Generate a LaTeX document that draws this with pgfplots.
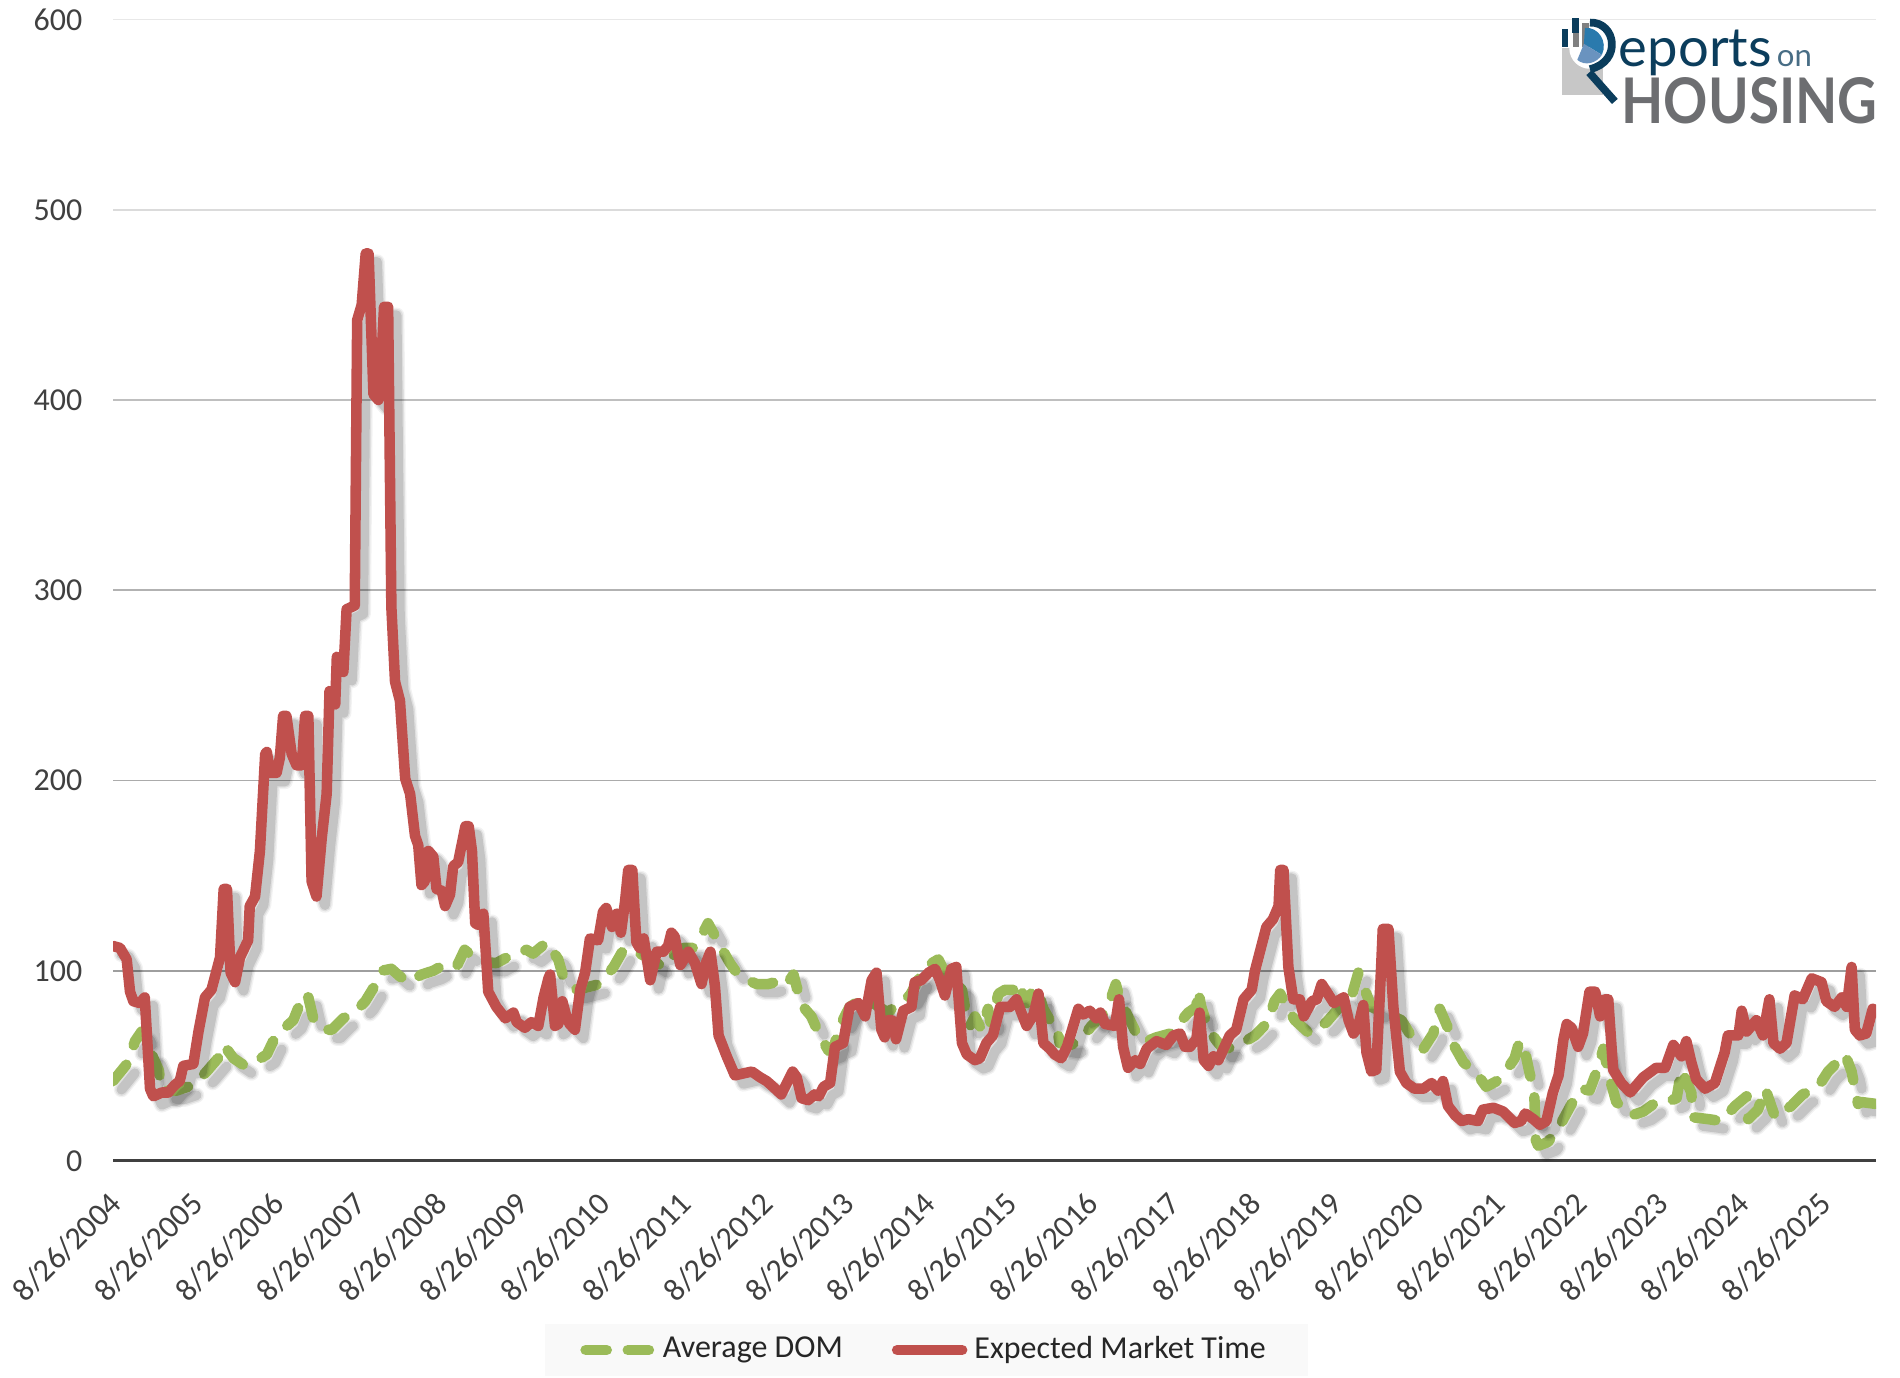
\documentclass[border=0pt]{standalone}
\usepackage{fontspec}
\usepackage{graphicx}
\usepackage{pgfplots}
\usepackage{pgfplotstable}
\pgfplotsset{compat=1.18}
\setmainfont{Carlito}
\newfontfamily\logofont{Lato}
\definecolor{redline}{HTML}{C0504D}
\definecolor{greenline}{HTML}{9BBB59}
\definecolor{ticktext}{HTML}{404040}
\definecolor{navy}{HTML}{0B3D5C}
\definecolor{logogray}{HTML}{6D6E71}
\definecolor{piedark}{HTML}{2A7AAD}
\definecolor{pielight}{HTML}{6A93BF}
\pgfplotstableread{
t v
0 113
.086 112
.168 106
.209 89
.25 84
.33 83
.39 86
.455 38
.495 34
.60 36
.68 36
.76 40
.82 42
.864 50
.987 51
1.05 68
1.13 86
1.21 90
1.315 107
1.36 143
1.40 143
1.445 99
1.50 94
1.56 107
1.66 116
1.68 134
1.745 139
1.805 163
1.87 214
1.89 215
1.93 204
2.01 204
2.05 212
2.09 234
2.13 234
2.195 214
2.255 208
2.32 208
2.36 234
2.40 234
2.44 147
2.50 139
2.565 170
2.625 193
2.66 247
2.73 240
2.75 265
2.83 257
2.87 290
2.97 292
3.00 442
3.055 450
3.105 477
3.14 477
3.20 403
3.26 400
3.30 423
3.33 449
3.38 449
3.42 291
3.465 252
3.525 242
3.59 201
3.65 193
3.71 171
3.75 166
3.79 145
3.83 147
3.875 163
3.935 160
3.975 143
4.04 142
4.08 134
4.14 140
4.18 155
4.24 157
4.33 176
4.37 176
4.41 163
4.45 125
4.49 124
4.55 130
4.61 89
4.71 81
4.82 75
4.92 78
4.96 73
5.06 70
5.14 73
5.225 71
5.29 86
5.35 96
5.37 98
5.43 71
5.47 72
5.52 84
5.57 76
5.61 72
5.675 69
5.74 90
5.80 99
5.86 117
5.96 116
6.02 131
6.06 133
6.13 123
6.19 130
6.24 120
6.29 136
6.33 153
6.38 153
6.43 115
6.47 112
6.52 117
6.60 95
6.68 110
6.76 110
6.82 113
6.86 120
6.90 118
6.97 103
7.07 110
7.15 104
7.23 93
7.285 104
7.34 110
7.395 92
7.44 66
7.54 55
7.64 45
7.74 46
7.85 47
7.95 44
8.03 42
8.11 39
8.21 35
8.35 47
8.40 44
8.46 33
8.54 32
8.62 35
8.67 34
8.73 39
8.81 41
8.87 60
8.97 62
9.05 81
9.16 83
9.24 76
9.32 95
9.38 99
9.44 69
9.48 65
9.52 74
9.57 74
9.62 64
9.71 79
9.81 81
9.85 94
9.93 95
10.02 99
10.10 101
10.16 95
10.22 87
10.30 101
10.36 102
10.43 62
10.49 56
10.59 53
10.65 54
10.73 62
10.81 66
10.90 81
11.02 81
11.10 85
11.16 78
11.225 71
11.31 77
11.37 88
11.43 62
11.51 59
11.57 56
11.65 54
11.72 60
11.86 80
11.92 77
12.00 79
12.08 75
12.13 78
12.19 72
12.31 71
12.36 85
12.41 60
12.47 49
12.56 53
12.62 51
12.70 59
12.82 63
12.94 61
13.03 66
13.11 67
13.17 60
13.23 60
13.31 64
13.35 78
13.40 53
13.46 50
13.52 55
13.58 53
13.72 66
13.80 69
13.89 85
13.99 90
14.03 100
14.17 123
14.25 127
14.32 134
14.34 153
14.38 153
14.44 102
14.50 85
14.58 85
14.63 76
14.73 84
14.79 85
14.85 93
14.91 89
15.00 83
15.12 86
15.18 74
15.24 67
15.30 71
15.36 82
15.40 57
15.46 47
15.52 48
15.58 102
15.60 122
15.67 122
15.73 81
15.81 47
15.89 41
15.99 38
16.10 38
16.20 41
16.28 37
16.34 42
16.40 29
16.49 24
16.57 21
16.65 22
16.77 21
16.83 27
16.96 28
17.08 26
17.22 20
17.30 21
17.35 25
17.45 22
17.53 19
17.61 21
17.69 36
17.76 45
17.82 64
17.86 72
17.92 70
18.00 60
18.06 67
18.14 89
18.21 89
18.27 76
18.33 85
18.37 85
18.43 48
18.53 41
18.64 36
18.80 44
18.96 49
19.07 49
19.17 61
19.27 55
19.33 63
19.39 52
19.45 43
19.56 38
19.68 41
19.80 57
19.84 66
19.97 66
20.01 79
20.07 68
20.19 74
20.27 66
20.35 85
20.40 62
20.48 59
20.56 62
20.66 87
20.76 85
20.87 96
20.99 94
21.05 84
21.15 81
21.24 86
21.30 81
21.36 102
21.40 69
21.46 66
21.54 67
21.62 80
21.69 78
}\tabemt
\pgfplotstableread{
t v
0 42
.19 52
.27 63
.35 68
.455 58
.56 48
.60 37
.78 37
.99 40
1.15 47
1.29 54
1.36 61
1.48 54
1.62 50
1.76 52.5
1.89 56
1.99 65
2.11 70
2.215 74
2.30 83
2.35 88
2.40 86
2.46 75
2.58 69
2.69 69
2.83 75
2.99 79
3.10 84
3.20 91
3.30 100
3.42 101
3.525 97
3.65 94
3.79 98
3.935 100
4.06 103
4.22 102
4.32 111
4.49 105
4.71 104
4.88 108
5.08 111
5.16 109
5.33 115
5.47 106
5.53 97
5.63 95
5.70 90
5.98 93
6.15 102
6.27 111
6.39 111
6.52 108
6.76 102
6.88 108
7.01 112
7.13 112
7.25 120
7.31 125
7.40 118
7.50 110
7.58 104
7.68 98
7.80 95
7.91 93
8.05 93
8.22 95
8.28 93
8.36 98
8.44 85
8.48 81
8.58 76
8.67 67
8.79 58
8.85 59
8.93 71
9.05 81
9.20 85
9.34 83
9.52 78
9.67 84
9.79 87
9.98 102
10.14 106
10.22 99
10.43 90
10.47 80
10.53 71
10.59 76
10.67 69
10.75 80
10.78 73
10.88 88
10.96 90
11.06 90
11.12 94
11.22 83
11.29 89
11.35 91
11.43 80
11.51 74
11.59 72
11.63 62
11.76 61
11.88 63
12.02 71
12.21 79
12.32 93
12.37 85
12.47 76
12.54 70
12.60 64
12.70 63
12.82 65
12.99 67
13.11 73
13.21 78
13.31 81
13.33 90
13.37 81
13.46 69
13.56 63
13.64 59
13.80 60
14.03 66
14.19 73
14.27 84
14.34 88
14.42 81
14.52 74
14.70 67
14.91 73
15.05 80
15.22 87
15.30 99
15.38 90
15.46 81
15.83 74
15.93 67
16.10 59
16.22 67
16.30 80
16.40 70
16.47 61
16.59 52
16.77 45
16.87 39
17.00 42
17.14 49
17.22 54
17.28 63
17.35 57
17.41 45
17.46 37
17.48 11
17.51 8
17.63 10
17.78 19
17.92 30
18.04 38
18.14 37
18.21 45
18.27 53
18.31 59
18.39 43
18.47 31
18.66 24
18.80 26
18.96 31
19.09 31
19.21 33
19.27 48
19.39 36
19.41 23
19.60 22
19.76 21
19.93 29
20.07 34
20.09 22
20.21 27
20.30 38
20.42 23
20.62 29
20.76 35
20.95 39
21.07 47
21.28 56
21.36 47
21.40 38
21.44 30
21.48 31
21.66 30
}\tabdom
\pgfplotsset{
  sh/.style={forget plot,draw=black,line join=round,line cap=round,xshift=0.085cm,yshift=-0.085cm},
  domdash/.style={dash pattern=on 6pt off 6pt},
}
\begin{document}
\begin{tikzpicture}
\useasboundingbox (0,0) rectangle (19,13.77);
\begin{axis}[
  at={(1.13cm,2.16cm)},anchor=south west,
  scale only axis,width=17.63cm,height=11.415cm,
  xmin=0,xmax=21.66,ymin=0,ymax=600,
  axis line style={draw=none},
  tick style={draw=none},
  ytick={0,100,...,600},
  xtick={0,1,...,21},
  xticklabels={8/26/2004,8/26/2005,8/26/2006,8/26/2007,8/26/2008,8/26/2009,8/26/2010,8/26/2011,8/26/2012,8/26/2013,8/26/2014,8/26/2015,8/26/2016,8/26/2017,8/26/2018,8/26/2019,8/26/2020,8/26/2021,8/26/2022,8/26/2023,8/26/2024,8/26/2025},
  /pgf/number format/assume math mode=true,
  tick label style={font=\fontsize{9.1}{11}\selectfont,text=ticktext},
  xticklabel style={rotate=45,anchor=north east,inner sep=0pt,xshift=-0.236cm,yshift=-0.16cm},
  yticklabel style={inner sep=0pt,xshift=-0.3cm},
  legend style={at={(0.4615,-0.1656)},anchor=center,draw=none,fill=black!2.5,legend columns=2,
    font=\fontsize{9.1}{11}\selectfont,text=black!85,inner xsep=0.35cm,inner ysep=0.05cm,
    /tikz/every even column/.append style={column sep=0.42cm}},
  legend cell align=left,
  legend image code/.code={\draw[#1,line width=3pt] (0.07cm,0cm)--(0.72cm,0cm);},
  no markers,
]
\draw[black!9,line width=0.5pt] (axis cs:0,600)--(axis cs:21.66,600);
\draw[black!14,line width=0.5pt] (axis cs:0,500)--(axis cs:21.66,500);
\draw[black!25,line width=0.5pt] (axis cs:0,400)--(axis cs:21.66,400);
\draw[black!30,line width=0.5pt] (axis cs:0,300)--(axis cs:21.66,300);
\draw[black!33,line width=0.5pt] (axis cs:0,200)--(axis cs:21.66,200);
\draw[black!38,line width=0.5pt] (axis cs:0,100)--(axis cs:21.66,100);
\draw[black!75,line width=1.3pt] (axis cs:0,0)--(axis cs:21.66,0);
\addplot[sh,domdash,opacity=.05,line width=4.4pt] table[x=t,y=v]{\tabdom};
\addplot[sh,domdash,opacity=.08,line width=3.6pt] table[x=t,y=v]{\tabdom};
\addplot[sh,domdash,opacity=.12,line width=2.8pt] table[x=t,y=v]{\tabdom};
\addplot[greenline,domdash,line width=3pt,line cap=round,line join=round] table[x=t,y=v]{\tabdom};
\addlegendentry{Average DOM}
\addplot[sh,opacity=.05,line width=4.4pt] table[x=t,y=v]{\tabemt};
\addplot[sh,opacity=.08,line width=3.6pt] table[x=t,y=v]{\tabemt};
\addplot[sh,opacity=.12,line width=2.8pt] table[x=t,y=v]{\tabemt};
\addplot[redline,line width=3pt,line cap=round,line join=round] table[x=t,y=v]{\tabemt};
\addlegendentry{Expected Market Time}
\end{axis}
\begin{scope}[shift={(15.4,13.77)},x=0.003333cm,y=-0.003333cm]
\fill[black!22] (67,145) rectangle (190,285);
\fill[navy] (67,88) rectangle (85,140);
\fill[white] (150,145) circle (62);
\fill[black!50] (125,70) rectangle (148,140);
\fill[navy] (97,55) rectangle (118,100);
\fill[black!50] (100,100) rectangle (118,140);
\fill[piedark] (132,132) -- (135,84) .. controls (175,80) and (205,125) .. (186,165) -- cycle;
\fill[pielight] (132,132) -- (186,165) .. controls (170,190) and (135,200) .. (112,180) -- cycle;
\draw[navy,line width=2.2pt] (150,68) .. controls (228,65) and (248,185) .. (150,208);
\draw[navy,line width=2.2pt] (148,218) -- (225,305);
\node[anchor=base west,inner sep=0pt,text=navy] at (235,200) {\resizebox{1.53cm}{!}{\logofont eports}};
\node[anchor=base west,inner sep=0pt,text=navy!75!white] at (710,200) {\resizebox{0.35cm}{!}{\logofont on}};
\node[anchor=base west,inner sep=0pt,text=logogray] at (243,372) {\resizebox{2.56cm}{0.46cm}{\logofont\bfseries HOUSING}};
\end{scope}
\end{tikzpicture}
\end{document}
